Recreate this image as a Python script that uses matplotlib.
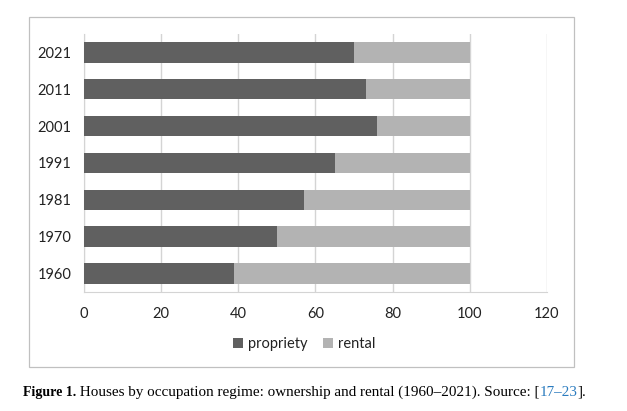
import numpy as np
import matplotlib
matplotlib.use('Agg')
import matplotlib.pyplot as plt
from matplotlib.patches import Rectangle

# ====== DATA ======
years = ['1960', '1970', '1981', '1991', '2001', '2011', '2021']
propriety = [39, 50, 57, 65, 76, 73, 70]
rental = [100 - p for p in propriety]
xticks = [0, 20, 40, 60, 80, 100, 120]

darkGrey = '#606060'
lightGrey = '#b3b3b3'
gridGrey = '#d4d4d4'

plt.rcParams['font.family'] = ['Lato', 'DejaVu Sans']

fig = plt.figure(figsize=(6.27, 4.11), dpi=100)

# Chart border
fig.patches.append(Rectangle((0.0467, 0.108), 0.8687, 0.850, transform=fig.transFigure,
                             fill=False, edgecolor='#c0c0c0', linewidth=0.9))

ax = fig.add_axes([0.134, 0.290, 0.738, 0.627])

y = np.arange(len(years))
ax.barh(y, propriety, height=0.55, color=darkGrey, label='propriety', zorder=3)
ax.barh(y, rental, left=propriety, height=0.55, color=lightGrey, label='rental', zorder=3)

ax.set_xlim(0, 120)
ax.set_ylim(-0.5, len(years) - 0.5)
ax.set_xticks(xticks)
ax.set_yticks(y)
ax.set_yticklabels(years)
ax.xaxis.grid(True, color=gridGrey, linewidth=1.0, zorder=0)
ax.tick_params(axis='both', length=0, labelsize=10.5, colors='#222222')
ax.tick_params(axis='x', pad=11)
ax.tick_params(axis='y', pad=9)

for side in ['top', 'right']:
    ax.spines[side].set_visible(False)
ax.spines['left'].set_color(gridGrey)
ax.spines['bottom'].set_color(gridGrey)

fig.legend(loc='center', bbox_to_anchor=(0.485, 0.163), ncol=2, frameon=False,
           fontsize=10.5, handlelength=0.7, handleheight=0.7, handletextpad=0.3,
           columnspacing=1.1, labelcolor='#222222')

# Caption
serif = ['Liberation Serif', 'DejaVu Serif']
t = fig.text(0.037, 0.037, 'Figure 1.', fontsize=10, fontweight='bold', family=serif)
t = plt.annotate(' Houses by occupation regime: ownership and rental (1960\u20132021). Source: [',
                 xy=(1, 0), xycoords=t, fontsize=10.9, family=serif, va='bottom')
t = plt.annotate('17\u201323', xy=(1, 0), xycoords=t, fontsize=10.9, family=serif,
                 va='bottom', color='#2a7bbf')
t = plt.annotate('].', xy=(1, 0), xycoords=t, fontsize=10.9, family=serif, va='bottom')

plt.savefig('out.png', dpi=100)
plt.close()
